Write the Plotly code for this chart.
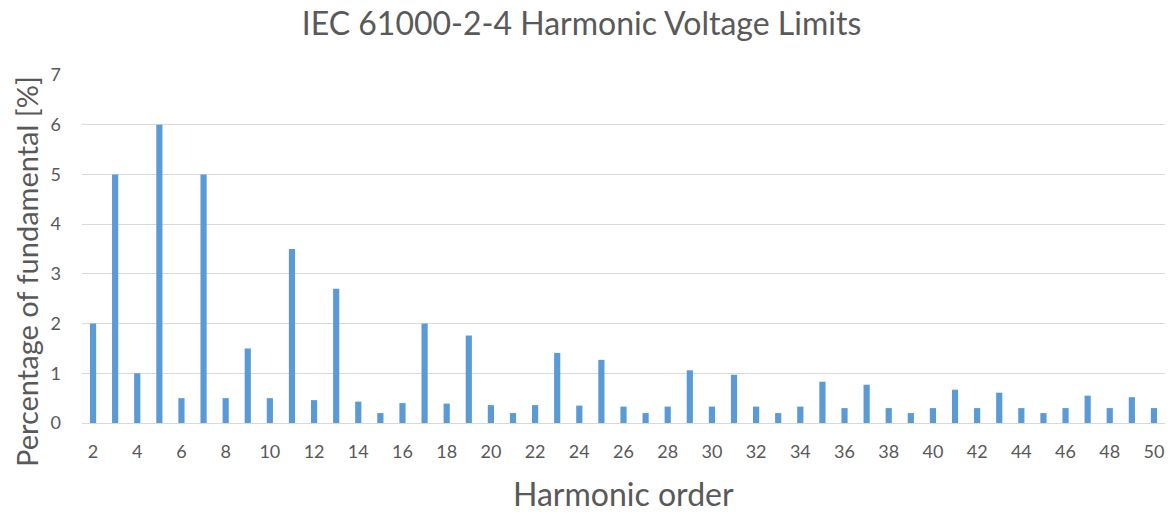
import plotly.graph_objects as go

# Harmonic orders and their voltage limits (% of fundamental)
harmonic_order = list(range(2, 51))
limit_percent = [
    2.0, 5.0, 1.0, 6.0, 0.5, 5.0, 0.5, 1.5, 0.5, 3.5,      # 2-11
    0.46, 2.7, 0.43, 0.2, 0.4, 2.0, 0.39, 1.76, 0.36, 0.2,  # 12-21
    0.36, 1.41, 0.35, 1.27, 0.33, 0.2, 0.33, 1.06, 0.33,    # 22-30
    0.97, 0.33, 0.2, 0.33, 0.83, 0.3, 0.77, 0.3, 0.2, 0.3,  # 31-40
    0.67, 0.3, 0.61, 0.3, 0.2, 0.3, 0.55, 0.3, 0.52, 0.3,   # 41-50
]
x_tick_values = list(range(2, 51, 2))
y_tick_values = list(range(0, 8))

TEXT_GREY = "#595959"
FONT = "Lato, 'Open Sans', sans-serif"

fig = go.Figure(
    go.Bar(
        x=harmonic_order,
        y=limit_percent,
        marker=dict(color="#5B9BD5", line=dict(width=0)),
        width=0.28,
        hoverinfo="x+y",
    )
)

fig.update_layout(
    width=1176,
    height=515,
    paper_bgcolor="white",
    plot_bgcolor="white",
    margin=dict(l=82, r=11, t=75, b=92),
    showlegend=False,
    title=dict(
        text="IEC 61000-2-4 Harmonic Voltage Limits",
        x=0.4945,
        xanchor="center",
        y=0.953,
        yanchor="middle",
        font=dict(family=FONT, size=32, color=TEXT_GREY),
    ),
    font=dict(family=FONT, color=TEXT_GREY),
    annotations=[
        # axis titles placed as free text so they sit exactly where wanted
        dict(
            text="Harmonic order",
            xref="paper", yref="paper",
            x=0.5, y=-0.203,
            xanchor="center", yanchor="middle",
            showarrow=False,
            font=dict(family=FONT, size=32, color=TEXT_GREY),
        ),
        dict(
            text="Percentage of fundamental [%]",
            xref="paper", yref="paper",
            x=-0.0508, y=0.4368,
            xanchor="center", yanchor="middle",
            textangle=-90,
            showarrow=False,
            font=dict(family=FONT, size=29, color=TEXT_GREY),
        ),
    ],
)

fig.update_xaxes(
    range=[1.5, 50.5],
    tickmode="array",
    tickvals=x_tick_values,
    ticktext=[str(v) for v in x_tick_values],
    tickfont=dict(size=18, color=TEXT_GREY),
    ticks="",
    ticklabelstandoff=12,
    showgrid=False,
    showline=True,
    linecolor="#D9D9D9",
    linewidth=1,
    zeroline=False,
)

fig.update_yaxes(
    range=[0, 7],
    tickmode="array",
    tickvals=y_tick_values,
    tickfont=dict(size=18, color=TEXT_GREY),
    ticks="",
    ticklabelstandoff=20,
    showgrid=True,
    gridcolor="#D9D9D9",
    gridwidth=1,
    zeroline=False,
    showline=False,
)

fig.write_html("out.html")
